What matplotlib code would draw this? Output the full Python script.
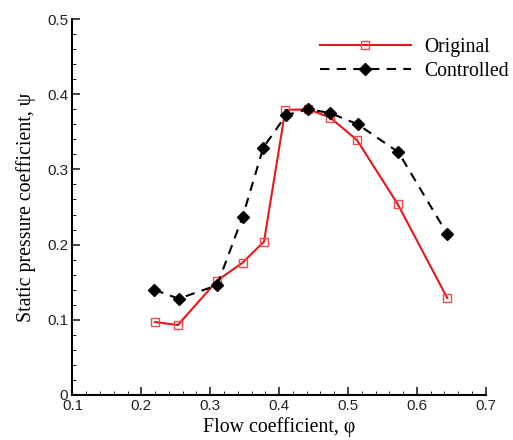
import numpy as np
import matplotlib
matplotlib.use('Agg')
import matplotlib.pyplot as plt
from matplotlib.ticker import MultipleLocator

# flow coefficient (phi) and static pressure coefficient (psi)
phiOrig = [0.220, 0.253, 0.310, 0.347, 0.378, 0.409, 0.442, 0.474, 0.513, 0.572, 0.644]
psiOrig = [0.097, 0.093, 0.152, 0.176, 0.204, 0.379, 0.380, 0.369, 0.339, 0.254, 0.129]

phiCtrl = [0.219, 0.254, 0.310, 0.347, 0.377, 0.410, 0.442, 0.474, 0.514, 0.573, 0.644]
psiCtrl = [0.140, 0.128, 0.146, 0.237, 0.329, 0.372, 0.380, 0.375, 0.360, 0.323, 0.214]

xTicks = [0.1, 0.2, 0.3, 0.4, 0.5, 0.6, 0.7]
yTicks = [0, 0.1, 0.2, 0.3, 0.4, 0.5]

serif = ['Liberation Serif', 'DejaVu Serif']
sans = ['Liberation Sans', 'DejaVu Sans']

fig = plt.figure(figsize=(5.13, 4.40), dpi=100)
ax = fig.add_axes([0.1413, 0.1023, 0.947 - 0.1413, 0.9568 - 0.1023])

ax.plot(phiOrig, psiOrig, color='#e8161b', lw=1.5, marker='s', ms=6,
        mfc='none', mec='#ee4a4e', mew=1.0, label='Original')
ax.plot(phiCtrl, psiCtrl, color='black', lw=1.5, ls=(0, (4.5, 3.5)), marker='D',
        ms=6, mfc='black', mec='black', label='Controlled')

ax.set_xlim(0.1, 0.7)
ax.set_ylim(0, 0.5)
ax.set_xticks(xTicks)
ax.set_yticks(yTicks)
ax.set_xticklabels(['%g' % v for v in xTicks], family=sans, fontsize=11)
ax.set_yticklabels(['%g' % v for v in yTicks], family=sans, fontsize=11)
ax.xaxis.set_minor_locator(MultipleLocator(0.02))
ax.yaxis.set_minor_locator(MultipleLocator(0.02))
ax.tick_params(which='major', direction='in', length=6, width=1.2, pad=3, colors='#222222')
ax.tick_params(which='minor', direction='in', length=3, width=0.6)

for side in ['top', 'right']:
    ax.spines[side].set_visible(False)
for side in ['left', 'bottom']:
    ax.spines[side].set_linewidth(1.5)

ax.set_xlabel('Flow coefficient, φ', family=serif, fontsize=14.3, labelpad=3)
ax.set_ylabel('Static pressure coefficient, ψ', family=serif, fontsize=14.3, labelpad=8)

# legend placed by figure pixel position of its top-left corner
legPos = fig.transFigure.inverted().transform((320, 440 - 38))
leg = ax.legend(loc='upper left', bbox_to_anchor=tuple(legPos),
                bbox_transform=fig.transFigure, frameon=False, borderpad=0,
                borderaxespad=0, prop={'family': serif, 'size': 14.2},
                handlelength=4.6, handletextpad=0.7, labelspacing=0.25)

fig.savefig('out.png', dpi=100)
